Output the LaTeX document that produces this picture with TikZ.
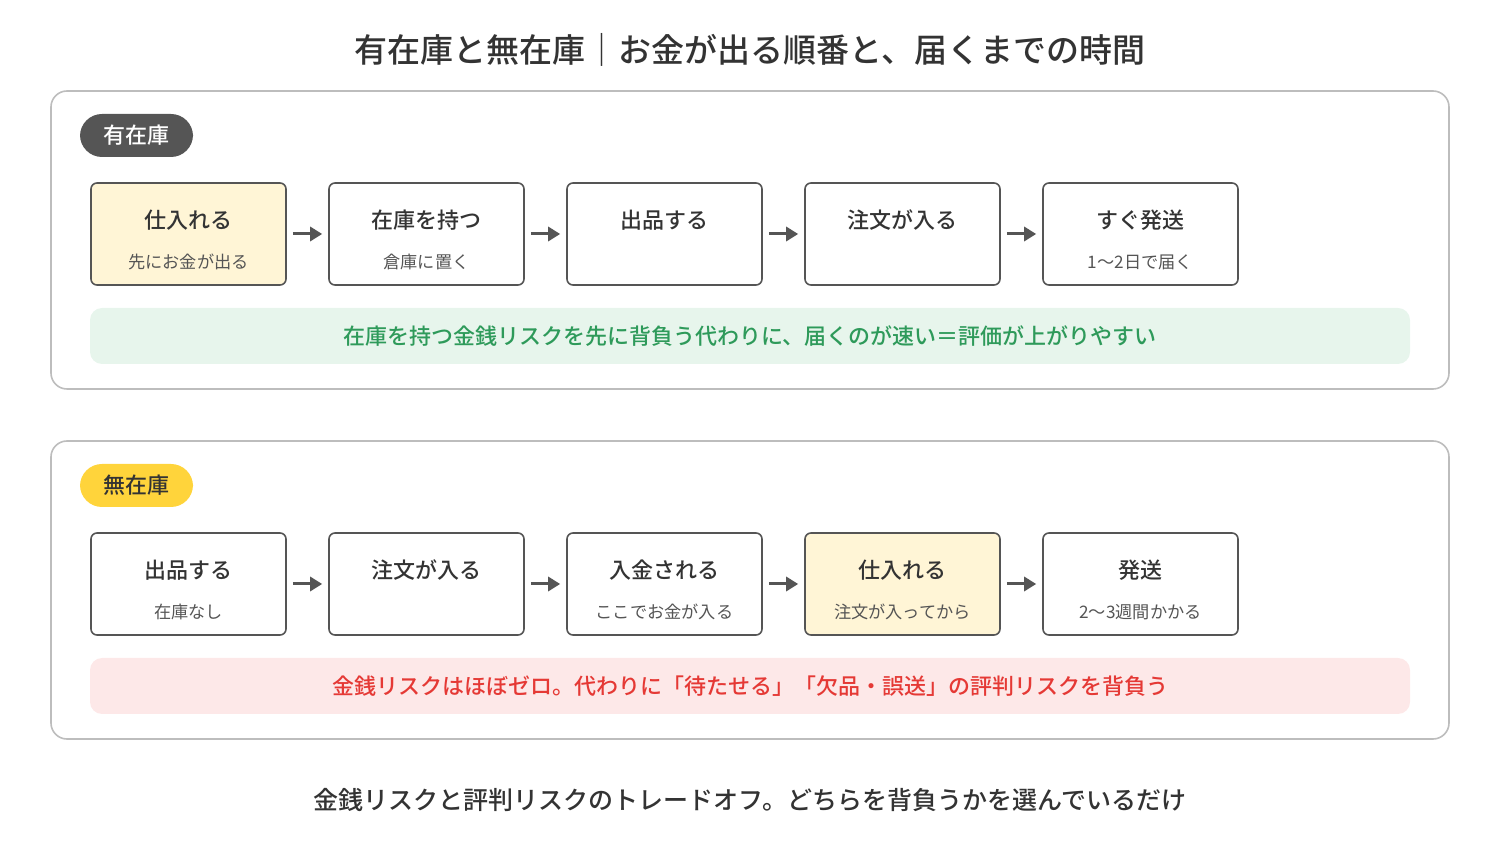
\documentclass[tikz,border=0pt]{standalone}
\usepackage{fontspec}
\setmainfont{Noto Sans CJK JP}[BoldFont={Noto Sans CJK JP Medium}]
\usetikzlibrary{arrows.meta}
\definecolor{bd}{HTML}{555555}
\definecolor{frame}{HTML}{BDBDBD}
\definecolor{hl}{HTML}{FFF5D6}
\definecolor{gbg}{HTML}{E7F5EC}
\definecolor{gtx}{HTML}{2E9A5A}
\definecolor{rbg}{HTML}{FDE8E8}
\definecolor{rtx}{HTML}{E53935}
\definecolor{yel}{HTML}{FFD43B}
\definecolor{txt}{HTML}{333333}
\tikzset{x=0.5pt,y=-0.5pt,
 panel/.style={draw=frame,line width=0.8pt,rounded corners=8pt},
 stepbox/.style={draw=bd,line width=0.8pt,rounded corners=3pt,minimum width=97.5pt,minimum height=51pt,fill=white},
 hstepbox/.style={stepbox,fill=hl},
 st/.style={font=\fontsize{11}{13}\selectfont\bfseries,text=txt},
 sub/.style={font=\fontsize{8.6}{10}\selectfont,text=bd},
 arr/.style={-{Triangle[length=6pt,width=7pt]},line width=1.5pt,draw=bd},
 band/.style={rounded corners=6pt,minimum width=660pt,minimum height=28pt,font=\fontsize{11}{12}\selectfont\bfseries},
 tag/.style={rounded corners=11pt,minimum width=56.5pt,minimum height=21.5pt,font=\fontsize{11}{12}\selectfont\bfseries}}
\begin{document}
\begin{tikzpicture}
\useasboundingbox (0,0) rectangle (1500,860);
\node[font=\fontsize{16.5}{18}\selectfont\bfseries,text=txt] (title) at (750,50) {有在庫と無在庫｜お金が出る順番と、届くまでの時間};
% panel 1
\node[panel,minimum width=699pt,minimum height=149pt] (p1) at (750,240) {};
\node[tag,fill=bd,text=white] (t1) at (136.5,135.5) {有在庫};
\foreach \i/\x/\t/\s/\h in {1/188.5/仕入れる/先にお金が出る/hstepbox,2/426.5/在庫を持つ/倉庫に置く/stepbox,3/664.5/出品する//stepbox,4/902.5/注文が入る//stepbox,5/1140.5/すぐ発送/1〜2日で届く/stepbox}{
 \node[\h] (a\i) at (\x,234) {};
 \node[st] (a\i t) at (\x,220) {\t};
 \node[sub] (a\i s) at (\x,262) {\s};
}
\foreach \i/\j in {1/2,2/3,3/4,4/5}{\draw[arr] ([xshift=3pt]a\i.east) -- ([xshift=-3pt]a\j.west);}
\node[band,fill=gbg,text=gtx] (b1) at (750,336) {在庫を持つ金銭リスクを先に背負う代わりに、届くのが速い＝評価が上がりやすい};
% panel 2
\node[panel,minimum width=699pt,minimum height=149pt] (p2) at (750,590) {};
\node[tag,fill=yel,text=txt] (t2) at (136.5,485.5) {無在庫};
\foreach \i/\x/\t/\s/\h in {1/188.5/出品する/在庫なし/stepbox,2/426.5/注文が入る//stepbox,3/664.5/入金される/ここでお金が入る/stepbox,4/902.5/仕入れる/注文が入ってから/hstepbox,5/1140.5/発送/2〜3週間かかる/stepbox}{
 \node[\h] (c\i) at (\x,584) {};
 \node[st] (c\i t) at (\x,570) {\t};
 \node[sub] (c\i s) at (\x,612) {\s};
}
\foreach \i/\j in {1/2,2/3,3/4,4/5}{\draw[arr] ([xshift=3pt]c\i.east) -- ([xshift=-3pt]c\j.west);}
\node[band,fill=rbg,text=rtx] (b2) at (750,686) {金銭リスクはほぼゼロ。代わりに「待たせる」「欠品・誤送」の評判リスクを背負う};
\node[font=\fontsize{12.5}{14}\selectfont\bfseries,text=txt] (foot) at (750,800) {金銭リスクと評判リスクのトレードオフ。どちらを背負うかを選んでいるだけ};
\end{tikzpicture}
\end{document}
